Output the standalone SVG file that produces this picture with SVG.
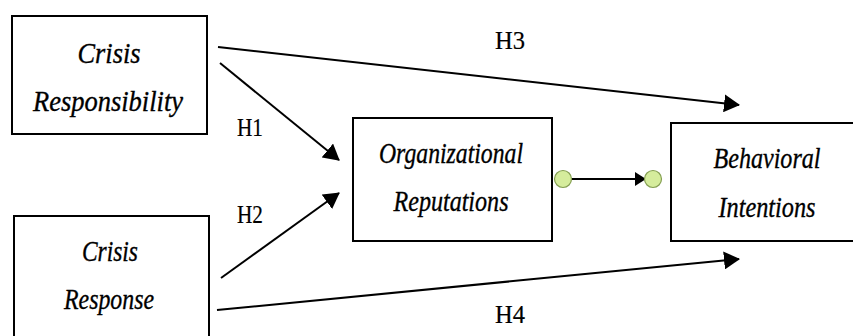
<svg xmlns="http://www.w3.org/2000/svg" width="853" height="336" viewBox="0 0 853 336">
<style>
.box{fill:#fff;stroke:#000;stroke-width:2}
.lbl{font-family:'Liberation Serif','DejaVu Serif',serif;font-style:italic;font-size:30px;fill:#000;stroke:#000;stroke-width:0.35;text-anchor:middle}
.h{font-family:'Liberation Serif','DejaVu Serif',serif;font-size:26px;fill:#000;stroke:#000;stroke-width:0.2;text-anchor:middle}
.conn{stroke:#000;stroke-width:2;fill:none}
.dot{fill:#d5ec9c;stroke:#849e52;stroke-width:1.2}
</style>
<defs>
<marker id="ah" viewBox="0 0 16 18" refX="15" refY="9" markerWidth="16" markerHeight="18" markerUnits="userSpaceOnUse" orient="auto">
<path d="M0,0 L16,9 L0,18 z" fill="#000"/>
</marker>
<marker id="ahs" viewBox="0 0 11 14" refX="10" refY="7" markerWidth="11" markerHeight="14" markerUnits="userSpaceOnUse" orient="auto">
<path d="M0,0 L11,7 L0,14 z" fill="#000"/>
</marker>
</defs>
<rect width="853" height="336" fill="#fff"/>
<g id="connectors">
<line class="conn" x1="218" y1="47" x2="739" y2="105" marker-end="url(#ah)"/>
<line class="conn" x1="220" y1="63" x2="339" y2="160" marker-end="url(#ah)"/>
<line class="conn" x1="221" y1="278" x2="339" y2="193" marker-end="url(#ah)"/>
<line class="conn" x1="217" y1="310" x2="739" y2="259" marker-end="url(#ah)"/>
<line class="conn" x1="572" y1="179" x2="645" y2="179" marker-end="url(#ahs)"/>
<circle class="dot" cx="563" cy="179" r="8.5"/>
<circle class="dot" cx="653" cy="179" r="8.5"/>
<text class="h" x="510" y="49" textLength="30" lengthAdjust="spacingAndGlyphs">H3</text>
<text class="h" x="250" y="136" textLength="26" lengthAdjust="spacingAndGlyphs">H1</text>
<text class="h" x="250" y="223" textLength="26" lengthAdjust="spacingAndGlyphs">H2</text>
<text class="h" x="510" y="323" textLength="30" lengthAdjust="spacingAndGlyphs">H4</text>
</g>
<g id="crisis-responsibility">
<rect class="box" x="12" y="16" width="195" height="118"/>
<text class="lbl" x="109" y="63" textLength="63" lengthAdjust="spacingAndGlyphs">Crisis</text>
<text class="lbl" x="108" y="111" textLength="150" lengthAdjust="spacingAndGlyphs">Responsibility</text>
</g>
<g id="crisis-response">
<rect class="box" x="14" y="216" width="195" height="140"/>
<text class="lbl" x="110" y="261" textLength="56" lengthAdjust="spacingAndGlyphs">Crisis</text>
<text class="lbl" x="109" y="309" textLength="90" lengthAdjust="spacingAndGlyphs">Response</text>
</g>
<g id="organizational-reputations">
<rect class="box" x="353" y="118" width="199" height="123"/>
<text class="lbl" x="451" y="163" textLength="144" lengthAdjust="spacingAndGlyphs">Organizational</text>
<text class="lbl" x="451" y="211" textLength="115" lengthAdjust="spacingAndGlyphs">Reputations</text>
</g>
<g id="behavioral-intentions">
<rect class="box" x="671" y="123" width="200" height="118"/>
<text class="lbl" x="767" y="168" textLength="107" lengthAdjust="spacingAndGlyphs">Behavioral</text>
<text class="lbl" x="767" y="217" textLength="97" lengthAdjust="spacingAndGlyphs">Intentions</text>
</g>
</svg>
